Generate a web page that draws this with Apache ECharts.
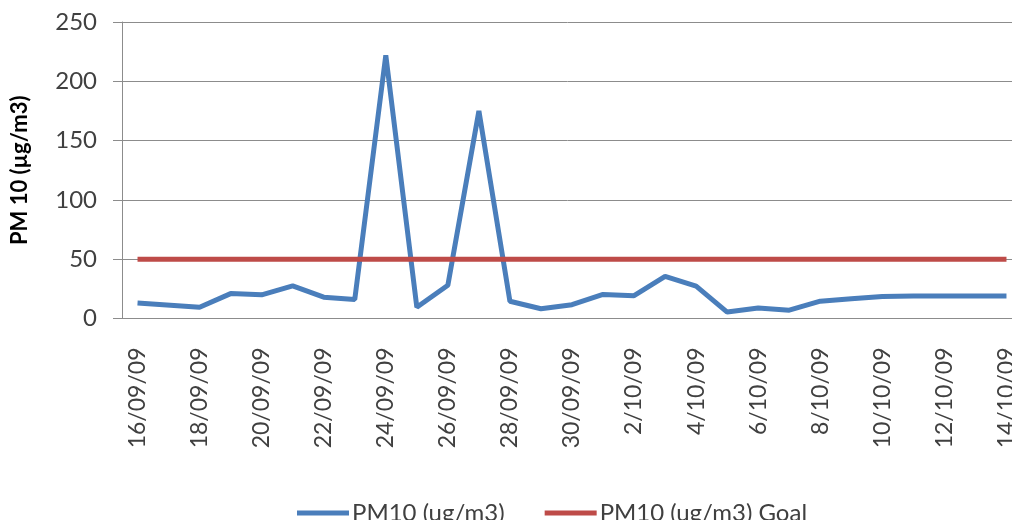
<!DOCTYPE html>
<html>
<head>
<meta charset="utf-8">
<script src="https://cdn.jsdelivr.net/npm/echarts@6/dist/echarts.min.js"></script>
<style>
html,body{margin:0;padding:0;background:#fff;}
#chart{width:1012px;height:520px;}
</style>
</head>
<body>
<div id="chart"></div>
<script>
const categories = ['16/09/09','17/09/09','18/09/09','19/09/09','20/09/09','21/09/09','22/09/09','23/09/09','24/09/09','25/09/09','26/09/09','27/09/09','28/09/09','29/09/09','30/09/09','1/10/09','2/10/09','3/10/09','4/10/09','5/10/09','6/10/09','7/10/09','8/10/09','9/10/09','10/10/09','11/10/09','12/10/09','13/10/09','14/10/09'];
const pm10 = [13, null, 9.5, 21, 20, 27.5, 18, 16, 222, 9.5, 28, 175, 14.5, 8.2, 11.6, 20.3, 19.2, 35.6, 27.3, 5.4, 8.8, 7, 14.6, 16.6, 18.6, 19, 19, 19, 19];
const pm10Goal = [50,50,50,50,50,50,50,50,50,50,50,50,50,50,50,50,50,50,50,50,50,50,50,50,50,50,50,50,50];
const yTicks = { min: 0, max: 250, interval: 50 };
const seriesNames = ['PM10 (ug/m3)', 'PM10 (ug/m3) Goal'];
const yTitle = 'PM 10 (µg/m3)';

const font = 'Lato, "Open Sans", sans-serif';
const chart = echarts.init(document.getElementById('chart'));
chart.setOption({
  animation: false,
  backgroundColor: '#fff',
  grid: { left: 122, right: -10, top: 22, bottom: 201.5, containLabel: false, outerBoundsMode: 'none' },
  legend: {
    left: 292, top: 496,
    itemWidth: 52, itemHeight: 5, itemGap: 40,
    icon: 'rect',
    textStyle: { fontFamily: font, fontSize: 24, color: '#404040', padding: [0,0,0,-2] },
    data: seriesNames
  },
  xAxis: {
    type: 'category',
    data: categories,
    boundaryGap: true,
    axisLine: { lineStyle: { color: '#8c8c8c', width: 1 } },
    axisTick: { show: false },
    axisLabel: { interval: 1, rotate: 90, margin: 29, fontFamily: font, fontSize: 23, color: '#404040' }
  },
  yAxis: {
    type: 'value',
    min: yTicks.min, max: yTicks.max, interval: yTicks.interval,
    name: yTitle, nameLocation: 'middle', nameGap: 91, nameRotate: 90,
    nameTextStyle: { fontFamily: font, fontSize: 22, fontWeight: 'bold', color: '#000' },
    axisLine: { show: true, lineStyle: { color: '#8c8c8c', width: 1 } },
    axisTick: { show: true, length: 9, lineStyle: { color: '#8c8c8c' } },
    splitLine: { lineStyle: { color: '#8c8c8c', width: 1 } },
    axisLabel: { margin: 25, fontFamily: font, fontSize: 24, color: '#404040' }
  },
  series: [
    {
      name: seriesNames[0], type: 'line', data: pm10, connectNulls: true,
      showSymbol: false, symbol: 'none',
      lineStyle: { color: '#4A7EBB', width: 5 }, itemStyle: { color: '#4A7EBB' }
    },
    {
      name: seriesNames[1], type: 'line', data: pm10Goal,
      showSymbol: false, symbol: 'none',
      lineStyle: { color: '#BE4B48', width: 5 }, itemStyle: { color: '#BE4B48' }
    }
  ]
});
</script>
</body>
</html>
